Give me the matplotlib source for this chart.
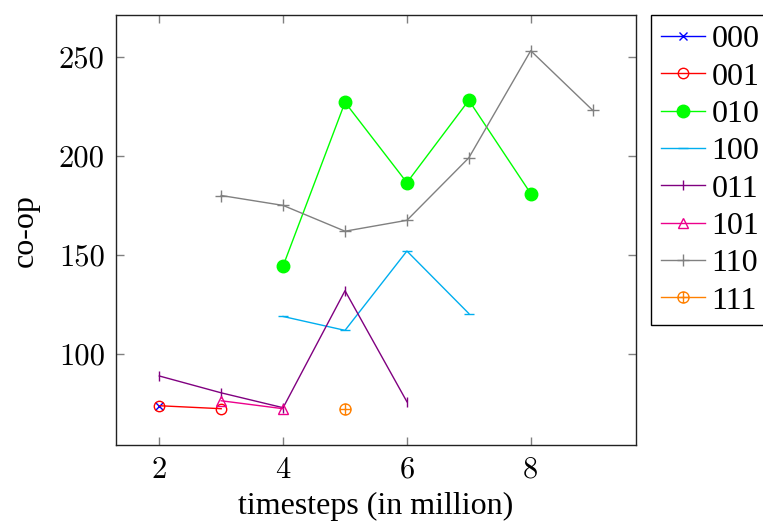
import matplotlib.pyplot as plt
from matplotlib.path import Path
import numpy as np

# data
labels = ['000', '001', '010', '100', '011', '101', '110', '111']
x_000 = [2]
y_000 = [74]
x_001 = [2, 3]
y_001 = [74, 72.5]
x_010 = [4, 5, 6, 7, 8]
y_010 = [144.5, 227, 186.5, 228, 181]
x_100 = [4, 5, 6, 7]
y_100 = [119, 112, 152, 120.5]
x_011 = [2, 3, 4, 5, 6]
y_011 = [89, 80.5, 73, 132, 76]
x_101 = [3, 4]
y_101 = [76.5, 72.5]
x_110 = [3, 4, 5, 6, 7, 8, 9]
y_110 = [180, 175, 162, 167.5, 199, 253, 223]
x_111 = [5]
y_111 = [72.3]

# circle with a plus inside (pgfplots "oplus")
circ = Path.unit_circle()
cross = Path([(-1, 0), (1, 0), (0, -1), (0, 1)],
             [Path.MOVETO, Path.LINETO, Path.MOVETO, Path.LINETO])
oplus = Path.make_compound_path(circ, cross)

serif = ['Liberation Serif', 'DejaVu Serif']
fs = 23

fig = plt.figure(figsize=(7.63, 5.25), dpi=100)
ax = fig.add_axes([0.152, 0.152, 0.6815, 0.819])

lw = 1.0
ax.plot(x_000, y_000, color='#0000ff', lw=lw, marker='x', ms=6, mew=1.0, label=labels[0])
ax.plot(x_001, y_001, color='#ff0000', lw=lw, marker='o', ms=7.5, mfc='none', mew=1.0, label=labels[1])
ax.plot(x_010, y_010, color='#00ff00', lw=lw, marker='o', ms=9, label=labels[2])
ax.plot(x_100, y_100, color='#00aeef', lw=lw, marker='_', ms=7, mew=1.0, label=labels[3])
ax.plot(x_011, y_011, color='#800080', lw=lw, marker='|', ms=7, mew=1.0, label=labels[4])
ax.plot(x_101, y_101, color='#ec008c', lw=lw, marker='^', ms=7.5, mfc='none', mew=1.0, label=labels[5])
ax.plot(x_110, y_110, color='#808080', lw=lw, marker='+', ms=8, mew=1.0, label=labels[6])
ax.plot(x_111, y_111, color='#ff8000', lw=lw, marker=oplus, ms=8, mfc='none', mew=1.0, label=labels[7])

ax.set_xlim(1.3, 9.7)
ax.set_ylim(54.1, 270.9)
ax.set_xticks([2, 4, 6, 8])
ax.set_yticks([100, 150, 200, 250])
ax.tick_params(direction='in', length=6, width=1, color='#808080',
               top=True, right=True, labelsize=22, pad=8)
for lab in ax.get_xticklabels() + ax.get_yticklabels():
    lab.set_fontfamily('cmr10')
for sp in ax.spines.values():
    sp.set_linewidth(1.0)
    sp.set_color('#222222')

ax.set_xlabel('timesteps (in million)', fontsize=fs, family=serif, labelpad=6)
ax.set_ylabel('co-op', fontsize=fs, family=serif, labelpad=14)

leg = ax.legend(loc='upper left', bbox_to_anchor=(1.029, 1.0), borderaxespad=0,
                fancybox=False, edgecolor='black', framealpha=1,
                prop={'family': serif, 'size': fs}, handlelength=1.4,
                handletextpad=0.2, labelspacing=0.25, borderpad=0.3)
leg.get_frame().set_linewidth(1.0)

fig.savefig('out.png', dpi=100)
